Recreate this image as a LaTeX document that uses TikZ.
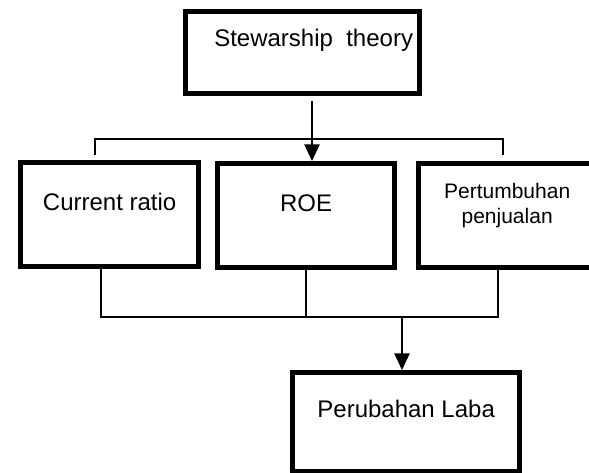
\documentclass[tikz,border=0pt]{standalone}
\usepackage{fontspec}
\setmainfont{Liberation Sans}
\usetikzlibrary{arrows.meta}

\begin{document}
\begin{tikzpicture}[x=0.75pt,y=-0.75pt,
  kotak/.style={draw,line width=4pt,inner sep=0pt,anchor=north west,
    font=\fontsize{18}{21.6}\selectfont},
  garis/.style={line width=1.1pt},
  panah/.style={garis,-{Triangle[width=11.5pt,length=12.5pt]}}]
  \useasboundingbox (0,0) rectangle (589,472);
  \clip (0,0) rectangle (589,472);
  \node[kotak,minimum width=175.5pt,text height=26.25pt,text depth=35.25pt]
    (stew) at (183,9) {\hspace*{16.5pt}Stewarship\ \ theory};
  \node[kotak,minimum width=133.5pt,text height=36pt,text depth=42pt]
    (cur) at (18,160) {Current ratio};
  \node[kotak,minimum width=132.75pt,text height=36pt,text depth=42pt]
    (roe) at (215,161) {ROE};
  \node[kotak,minimum width=132.75pt,text height=45pt,text depth=33pt,
    align=center,font=\fontsize{15.75}{19.1}\selectfont]
    (pert) at (416,161) {Pertumbuhan\\penjualan};
  \node[kotak,minimum width=170.25pt,text height=33.75pt,text depth=40.5pt]
    (laba) at (290,370) {Perubahan Laba};
  \coordinate (atas) at (312,101);
  \coordinate (kiri) at (95,155);
  \coordinate (kanan) at (503,155);
  \coordinate (b1) at (101,317);
  \coordinate (b2) at (402,317);
  \coordinate (b3) at (498,317);
  \draw[panah] (atas) -- (atas |- roe.north);
  \draw[garis] (kiri) -- ++(0,-16) -| (kanan);
  \draw[garis] (b1 |- cur.south) -- (b1) -- (b3) -- (b3 |- pert.south);
  \draw[garis] (roe.south) -- (roe.south |- b1);
  \draw[panah] (b2) -- (b2 |- laba.north);
\end{tikzpicture}
\end{document}
